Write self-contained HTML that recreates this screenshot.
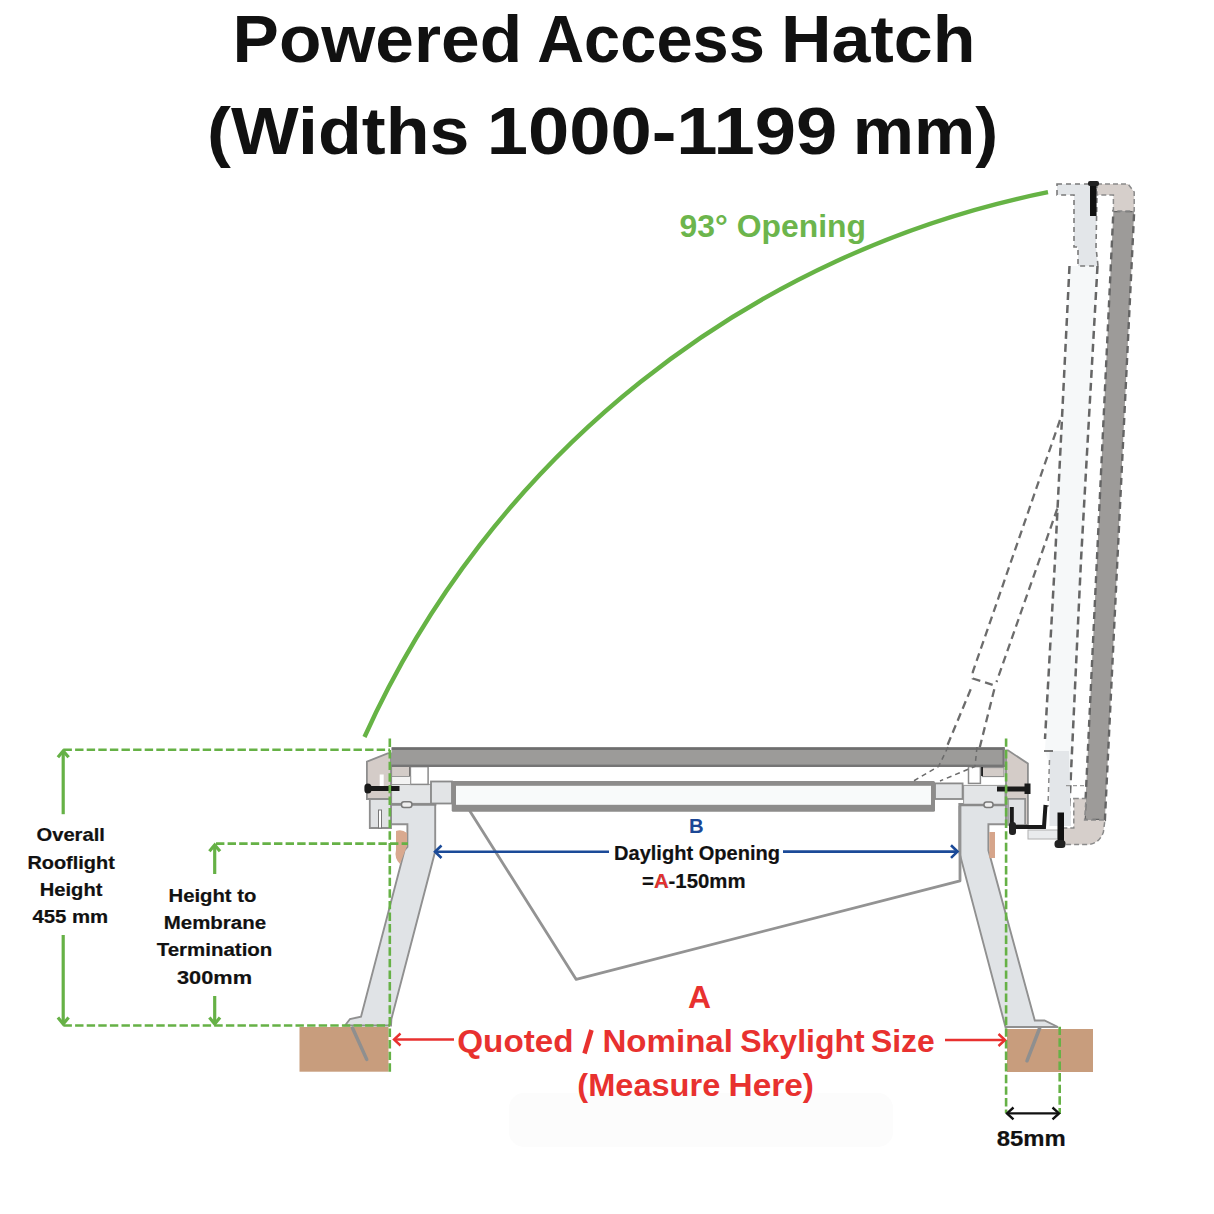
<!DOCTYPE html>
<html><head><meta charset="utf-8">
<style>
html,body{margin:0;padding:0;background:#fff;}
svg{display:block;}
text{font-family:"Liberation Sans",sans-serif;font-weight:bold;}
</style></head>
<body>
<svg width="1214" height="1214" viewBox="0 0 1214 1214">
<rect width="1214" height="1214" fill="#ffffff"/>

<!-- TITLE -->
<g fill="#111">
<text x="232.6" y="61.5" font-size="66" textLength="289.5" lengthAdjust="spacingAndGlyphs">Powered</text>
<text x="537.2" y="61.5" font-size="66" textLength="227.6" lengthAdjust="spacingAndGlyphs">Access</text>
<text x="781.1" y="61.5" font-size="66" textLength="194.4" lengthAdjust="spacingAndGlyphs">Hatch</text>
<text x="207.0" y="154.2" font-size="66" textLength="262.4" lengthAdjust="spacingAndGlyphs">(Widths</text>
<text x="486.7" y="154.2" font-size="66" textLength="350.6" lengthAdjust="spacingAndGlyphs">1000-1199</text>
<text x="852.8" y="154.2" font-size="66" textLength="145.4" lengthAdjust="spacingAndGlyphs">mm)</text>
</g>

<!-- OPENING ARC -->
<path d="M364.5,737 A957,957 0 0 1 1048,192.2" fill="none" stroke="#66b345" stroke-width="4.4"/>
<text x="679.6" y="236.7" font-size="32" fill="#6cb54c" textLength="186.4" lengthAdjust="spacingAndGlyphs">93° Opening</text>

<!-- STRUCTURE -->
<g id="structure">
<rect x="509" y="1093" width="384" height="54" rx="15" fill="#fcfcfc"/>
<!-- BROWN BLOCKS -->
<rect x="299.5" y="1027" width="89" height="44.7" fill="#c89d7d"/>
<rect x="1007" y="1029" width="86" height="43" fill="#c89d7d"/>
<line x1="352.5" y1="1028" x2="366.7" y2="1059.4" stroke="#8f8f8f" stroke-width="3.5" stroke-linecap="round"/>
<line x1="1039.7" y1="1028" x2="1027" y2="1060.8" stroke="#8f8f8f" stroke-width="3.5" stroke-linecap="round"/>

<!-- OPEN LID: light strip + dashed outlines -->
<path d="M1069.5,266 L1097.5,266 L1069,826 L1045,751 Z" fill="#f6f8f9" stroke="none"/>
<path d="M1069.5,266 L1055,560 L1045,739" fill="none" stroke="#666" stroke-width="2.5" stroke-dasharray="8,5"/>
<path d="M1097.5,266 L1081,560 L1068.5,826" fill="none" stroke="#666" stroke-width="2.5" stroke-dasharray="8,5"/>
<!-- open sash upper part -->
<path d="M1057,184 L1097,184 L1097,195 L1096,247 L1098,266 L1078,266 L1078,247 L1074,247 L1074,195 L1057,195 Z" fill="#e3e6e9" stroke="#7a7a7a" stroke-width="1.6" stroke-dasharray="5,4"/>
<!-- strut -->
<path d="M1060,420 L972.8,672 L972.8,678.5 L996.5,686 M970.7,689.3 L938.6,766.4" fill="none" stroke="#6c6c6c" stroke-width="2.3" stroke-dasharray="8,5"/>
<path d="M1057.3,508.7 L996.5,682 M994.3,689.3 L975,766.4" fill="none" stroke="#6c6c6c" stroke-width="2.3" stroke-dasharray="8,5"/>
<!-- lower open sash strip -->
<path d="M1049.5,751 L1069,751 L1071,826 L1049.5,826 Z" fill="#e3e6e9" stroke="none"/>
<line x1="1044" y1="751" x2="1053" y2="751" stroke="#777" stroke-width="2"/>
<path d="M1049.5,760 L1048,806 L1042,808" fill="none" stroke="#888" stroke-width="1.5" stroke-dasharray="5,4"/>
<line x1="1066" y1="785.6" x2="1085" y2="785.6" stroke="#999" stroke-width="1.2" stroke-dasharray="4,3"/>
<rect x="1028" y="830" width="30" height="9" fill="#e9ebed" stroke="#b0b0b0" stroke-width="1"/>

<!-- OPEN LID gray bar -->
<polygon points="1113.4,211 1134.2,211 1104.9,820 1084.6,820" fill="#9d9b99" stroke="#646464" stroke-width="2.4" stroke-dasharray="7,5"/>
<!-- top bracket -->
<path d="M1097,184 L1128,184 L1134.2,192 L1134.2,211 L1113.4,211 L1113.4,195 L1097,195 Z" fill="#d6cfcb" stroke="#8a8a8a" stroke-width="1.5" stroke-dasharray="5,3"/>
<rect x="1090" y="184" width="6.5" height="32" fill="#111"/>
<rect x="1088" y="181" width="11" height="5" rx="2" fill="#222"/>
<!-- bottom bracket -->
<path d="M1073.8,798.6 L1086,798.6 L1084.6,820 L1104.9,820 L1103.4,832 Q1099,844.6 1086,844.6 L1063,844.6 L1063,828 L1073.8,828 Z" fill="#d6cfcb" stroke="#8a8a8a" stroke-width="1.5" stroke-dasharray="5,3"/>
<rect x="1057.5" y="812.5" width="6.5" height="32" fill="#111"/>
<rect x="1054.5" y="840" width="11" height="8" rx="3.5" fill="#222"/>

<!-- LEFT LEG -->
<path d="M391,803 L435.2,803 L435.2,851.3 L391.4,1019 L391,1025.5 L345,1025.5 L350,1019 L361,1016.7 L404.6,850 L407.4,846.9 L407.4,824.3 L391,824.3 Z" fill="#e0e3e6" stroke="#909090" stroke-width="1.9"/>
<!-- RIGHT LEG -->
<path d="M959.3,803.9 L1006,803.9 L1006,824.2 L988.4,824.2 L988.4,850.3 L1034.8,1020.5 L1044.5,1020.5 L1058,1027 L1006,1027 L1005.8,1028.3 L959.3,852.2 Z" fill="#e0e3e6" stroke="#909090" stroke-width="1.9"/>
<!-- membranes -->
<path d="M396,831 Q402,829 407,833 L407,846 L400,864 Q394,858 396,850 Z" fill="#d9a98f"/>
<rect x="989.3" y="832" width="5.7" height="26" fill="#d6a58b"/>

<!-- DIAGONAL LINE under glazing -->
<path d="M469.5,810.4 L576.2,979.4 L960,880.8 L960,806" fill="none" stroke="#939393" stroke-width="2.8" stroke-linejoin="round"/>

<!-- FRAME TOP / SASH (left) -->
<rect x="391.6" y="784.4" width="39.4" height="19" fill="#e3e5e7" stroke="#9a9a9a" stroke-width="1"/>
<rect x="431" y="781.5" width="21" height="22" fill="#e2e4e6" stroke="#8a8a8a" stroke-width="1.8"/>
<line x1="391.9" y1="804.6" x2="436.3" y2="804.6" stroke="#8a8a8a" stroke-width="2.5"/>
<rect x="401.5" y="801.7" width="10.4" height="5.9" rx="2.5" fill="#eee" stroke="#7a7a7a" stroke-width="1.5"/>
<rect x="391.6" y="765" width="19" height="11.5" fill="#d3ccc8" stroke="#888" stroke-width="1"/>
<rect x="409.4" y="766" width="2" height="10" fill="#222"/>
<rect x="410.4" y="766.6" width="17.7" height="17.8" fill="#fff" stroke="#8a8a8a" stroke-width="1.5"/>
<rect x="391.6" y="776.5" width="19" height="8" fill="#f3f3f3" stroke="#999" stroke-width="1"/>
<!-- left bracket -->
<path d="M387.6,753.3 L391,753.3 L391,799 L366.9,799 L366.9,761.7 Z" fill="#d4ccc8" stroke="#8e8e8e" stroke-width="1.8"/>
<rect x="379.7" y="774.5" width="4" height="12" fill="#fff"/>
<path d="M369.8,799 L391,799 L391,828 L369.8,828 Z" fill="#e0e2e4" stroke="#8e8e8e" stroke-width="1.8"/>
<rect x="378.5" y="810" width="3" height="18" fill="#fff" stroke="#777" stroke-width="1"/>
<!-- left bolt -->
<rect x="368" y="786" width="31.5" height="5" fill="#1a1a1a"/>
<rect x="364.4" y="783.5" width="7" height="10" rx="3.5" fill="#1a1a1a"/>

<!-- FRAME TOP / SASH (right) -->
<rect x="963.6" y="785.4" width="41.4" height="19.6" fill="#e3e5e7" stroke="#9a9a9a" stroke-width="1"/>
<rect x="935" y="783.4" width="27.6" height="15.6" fill="#e2e4e6" stroke="#8a8a8a" stroke-width="1.8"/>
<line x1="959.7" y1="805" x2="1006" y2="805" stroke="#8a8a8a" stroke-width="2.5"/>
<rect x="984" y="802" width="9" height="5.5" rx="2.5" fill="#eee" stroke="#7a7a7a" stroke-width="1.5"/>
<rect x="982.4" y="767.6" width="21.6" height="9" fill="#d3ccc8" stroke="#888" stroke-width="1"/>
<rect x="981" y="767" width="2" height="9" fill="#222"/>
<rect x="968.5" y="766.6" width="11.9" height="16.8" fill="#fff" stroke="#8a8a8a" stroke-width="1.5"/>
<!-- right bracket -->
<path d="M1006,750.3 L1008,750.3 L1027.9,763.6 L1027.9,825 L1025,825 L1025,799 L1006,799 Z" fill="#d4ccc8" stroke="#8e8e8e" stroke-width="1.8"/>
<rect x="1008" y="799" width="17" height="26" fill="#e0e2e4" stroke="#8e8e8e" stroke-width="1.5"/>
<!-- right bolt -->
<rect x="997" y="786.5" width="30" height="5" fill="#1a1a1a"/>
<rect x="1024.5" y="783.5" width="6" height="10.5" fill="#1a1a1a"/>
<!-- hinge arm -->
<path d="M1011.8,807 L1011.8,827 L1044,827 L1045.5,805" fill="none" stroke="#1a1a1a" stroke-width="4"/>
<rect x="1009" y="822" width="7" height="13" rx="3" fill="#222"/>

<!-- GLAZING -->
<rect x="451.7" y="781" width="483.3" height="30.8" rx="1.5" fill="#8d8c8b"/>
<rect x="456" y="785.8" width="475" height="19" fill="#f8fafa"/>

<!-- CLOSED LID -->
<rect x="391.6" y="747.3" width="613" height="19.7" fill="#9c9b99"/>
<rect x="391.6" y="747.3" width="613" height="2.6" fill="#6e6e6e"/>
<rect x="391.6" y="764.6" width="613" height="2.4" fill="#757575"/>
<rect x="1002.5" y="747.3" width="2.1" height="19.7" fill="#777"/>
<!-- strut dashes crossing closed lid -->
<path d="M948,747 L938.6,766.4 L912.9,781.4 M977,747 L975,766.4 L940,781" fill="none" stroke="#6a6a6a" stroke-width="1.5" stroke-dasharray="5,4"/>

</g>
<g id="annot">
<!-- GREEN DASHED GUIDES -->
<g stroke="#66b146" stroke-width="2.6" fill="none" stroke-dasharray="8.4,3.2">
<line x1="63.5" y1="749.8" x2="390" y2="749.8"/>
<line x1="216" y1="843.6" x2="408" y2="843.6"/>
<line x1="63.5" y1="1025.5" x2="390" y2="1025.5"/>
<line x1="389.8" y1="738.5" x2="389.8" y2="1074"/>
<line x1="1006.1" y1="738.4" x2="1006.1" y2="1113"/>
<line x1="1059.7" y1="1026.7" x2="1059.7" y2="1114"/>
</g>
<!-- GREEN ARROWS -->
<g stroke="#66b146" stroke-width="3.2" fill="none" stroke-linecap="butt" stroke-linejoin="miter">
<line x1="63.2" y1="751" x2="63.2" y2="814.2"/>
<polyline points="57.9,757.3 63.2,751 68.6,757.3"/>
<line x1="63.2" y1="935" x2="63.2" y2="1024"/>
<polyline points="57.9,1017.4 63.2,1024 68.6,1017.4"/>
<line x1="214.7" y1="845" x2="214.7" y2="874"/>
<polyline points="209.4,851.3 214.7,845 220,851.3"/>
<line x1="214.7" y1="996" x2="214.7" y2="1024"/>
<polyline points="209.4,1017.4 214.7,1024 220,1017.4"/>
</g>

<!-- BLUE ARROWS -->
<g stroke="#1b4a98" stroke-width="2.6" fill="none">
<line x1="435" y1="851.8" x2="609" y2="851.8"/>
<polyline points="441.5,845.5 435,851.8 441.5,858"/>
<line x1="783" y1="851.6" x2="957.5" y2="851.6"/>
<polyline points="951,845.3 957.5,851.6 951,857.9"/>
</g>
<!-- RED ARROWS -->
<g stroke="#e8312f" stroke-width="2.4" fill="none">
<line x1="394" y1="1039.5" x2="454" y2="1039.5"/>
<polyline points="400.5,1033.5 394,1039.5 400.5,1045.5"/>
<line x1="945" y1="1040" x2="1005" y2="1040"/>
<polyline points="998.5,1034 1005,1040 998.5,1046"/>
</g>
<!-- BLACK DOUBLE ARROW -->
<g stroke="#111" stroke-width="2.4" fill="none">
<line x1="1007" y1="1113.4" x2="1059" y2="1113.4"/>
<polyline points="1013.5,1107.5 1007,1113.4 1013.5,1119.3"/>
<polyline points="1052.5,1107.5 1059,1113.4 1052.5,1119.3"/>
</g>

<!-- LABELS -->
<g fill="#111" stroke="#111" stroke-width="0.2">
<text x="36.5" y="840.9" font-size="17.8" textLength="68.4" lengthAdjust="spacingAndGlyphs">Overall</text>
<text x="27.4" y="868.6" font-size="17.8" textLength="87.4" lengthAdjust="spacingAndGlyphs">Rooflight</text>
<text x="39.8" y="895.8" font-size="17.8" textLength="62.6" lengthAdjust="spacingAndGlyphs">Height</text>
<text x="32.4" y="923" font-size="17.8" textLength="75.8" lengthAdjust="spacingAndGlyphs">455 mm</text>
<text x="168.5" y="901.7" font-size="18.8" textLength="87.8" lengthAdjust="spacingAndGlyphs">Height to</text>
<text x="163.8" y="929" font-size="18.8" textLength="102.2" lengthAdjust="spacingAndGlyphs">Membrane</text>
<text x="156.7" y="956.4" font-size="18.8" textLength="115.7" lengthAdjust="spacingAndGlyphs">Termination</text>
<text x="177" y="983.8" font-size="18.8" textLength="75" lengthAdjust="spacingAndGlyphs">300mm</text>
<text x="614" y="860.4" font-size="21" textLength="166" lengthAdjust="spacingAndGlyphs">Daylight Opening</text>
<text x="642" y="887.6" font-size="21" textLength="103.5" lengthAdjust="spacingAndGlyphs">=<tspan fill="#e8312f">A</tspan>-150mm</text>
<text x="996.7" y="1146" font-size="22" textLength="69" lengthAdjust="spacingAndGlyphs">85mm</text>
</g>
<text x="689" y="832.8" font-size="20.5" fill="#1b4795" textLength="14.6" lengthAdjust="spacingAndGlyphs">B</text>
<g fill="#e8312f">
<text x="688" y="1007.9" font-size="32" textLength="23" lengthAdjust="spacingAndGlyphs">A</text>
<text x="457.3" y="1052.2" font-size="32" textLength="116.2" lengthAdjust="spacingAndGlyphs">Quoted</text>
<line x1="584.5" y1="1053.5" x2="591.5" y2="1030" stroke="#e8312f" stroke-width="4.6" stroke-linecap="butt"/>
<text x="602.5" y="1052.2" font-size="32" textLength="130.4" lengthAdjust="spacingAndGlyphs">Nominal</text>
<text x="740.2" y="1052.2" font-size="32" textLength="124.5" lengthAdjust="spacingAndGlyphs">Skylight</text>
<text x="871.0" y="1052.2" font-size="32" textLength="63.7" lengthAdjust="spacingAndGlyphs">Size</text>
<text x="577.3" y="1095.7" font-size="32" textLength="143.0" lengthAdjust="spacingAndGlyphs">(Measure</text>
<text x="728.6" y="1095.7" font-size="32" textLength="85.4" lengthAdjust="spacingAndGlyphs">Here)</text>
</g>

</g>

</svg>
</body></html>
